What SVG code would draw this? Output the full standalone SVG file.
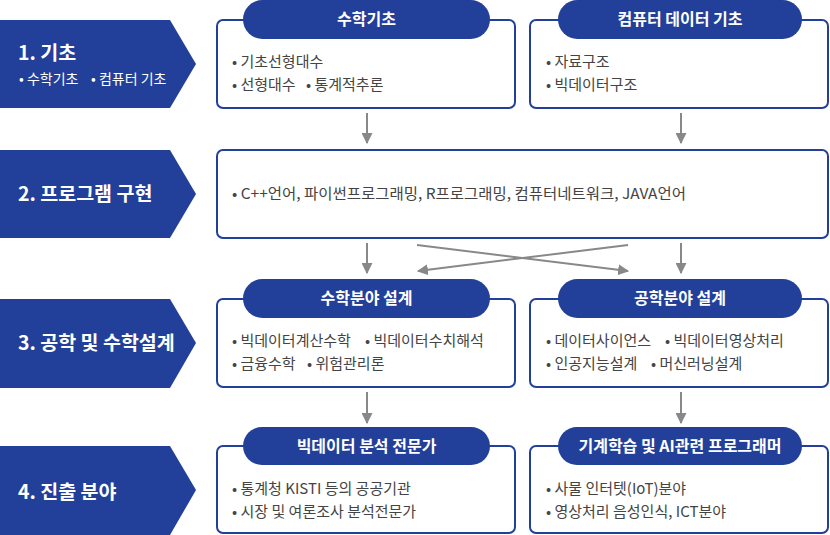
<svg xmlns="http://www.w3.org/2000/svg" width="830" height="535" viewBox="0 0 830 535">
<style>
.stage{fill:#22409a}
.stitle{font-family:"Noto Sans CJK KR","Noto Sans",sans-serif;font-size:19.5px;font-weight:bold;fill:#fff}
.ssub{font-family:"Noto Sans CJK KR","Noto Sans",sans-serif;font-size:14px;fill:#fff}
.box{fill:#fff;stroke:#22409a;stroke-width:2}
.pill{fill:#22409a}
.ptext{font-family:"Noto Sans CJK KR","Noto Sans",sans-serif;font-size:16px;font-weight:bold;fill:#fff;text-anchor:middle}
.body{font-family:"Noto Sans CJK KR","Noto Sans",sans-serif;font-size:15px;fill:#444}
.conn{stroke:#888;stroke-width:2;fill:none;marker-end:url(#ah)}
</style>
<defs>
<marker id="ah" viewBox="0 0 10 10" refX="9" refY="5" markerWidth="5.5" markerHeight="5.5" markerUnits="strokeWidth" orient="auto">
<path d="M0,0 L10,5 L0,10 z" fill="#888"/>
</marker>
</defs>

<g id="stage1"><polygon class="stage" points="0,20 170,20 196,64 170,108 0,108"/>
<text class="stitle" x="18" y="60">1. 기초</text>
<text class="ssub" y="84"><tspan x="19">• 수학기초</tspan><tspan x="91">• 컴퓨터 기초</tspan></text></g>
<g id="stage2"><polygon class="stage" points="0,150 170,150 196,194 170,238 0,238"/>
<text class="stitle" x="18" y="201">2. 프로그램 구현</text></g>
<g id="stage3"><polygon class="stage" points="0,299 170,299 196,343 170,388 0,388"/>
<text class="stitle" x="18" y="350">3. 공학 및 수학설계</text></g>
<g id="stage4"><polygon class="stage" points="0,446 170,446 196,490 170,535 0,535"/>
<text class="stitle" x="18" y="499">4. 진출 분야</text></g>

<g id="math-basics"><rect class="box" x="217" y="20" width="298" height="88" rx="6"/>
<rect class="pill" x="243" y="0" width="247" height="39" rx="19.5"/>
<text class="ptext" x="366.5" y="25">수학기초</text>
<text class="body" x="232" y="67">• 기초선형대수</text>
<text class="body" y="90"><tspan x="232">• 선형대수</tspan><tspan x="306">• 통계적추론</tspan></text></g>

<g id="cs-basics"><rect class="box" x="530" y="20" width="298" height="88" rx="6"/>
<rect class="pill" x="558" y="0" width="244" height="39" rx="19.5"/>
<text class="ptext" x="680" y="25">컴퓨터 데이터 기초</text>
<text class="body" x="546" y="67">• 자료구조</text>
<text class="body" x="546" y="90">• 빅데이터구조</text></g>

<g id="programming"><rect class="box" x="217" y="150" width="611" height="88" rx="6"/>
<text class="body" x="232" y="199" textLength="454" lengthAdjust="spacingAndGlyphs">• C++언어, 파이썬프로그래밍, R프로그래밍, 컴퓨터네트워크, JAVA언어</text></g>

<g id="math-design"><rect class="box" x="217" y="299" width="298" height="88" rx="6"/>
<rect class="pill" x="243" y="279" width="247" height="39" rx="19.5"/>
<text class="ptext" x="366.5" y="304">수학분야 설계</text>
<text class="body" y="346"><tspan x="232">• 빅데이터계산수학</tspan><tspan x="365">• 빅데이터수치해석</tspan></text>
<text class="body" y="369"><tspan x="232">• 금융수학</tspan><tspan x="307">• 위험관리론</tspan></text></g>

<g id="eng-design"><rect class="box" x="530" y="299" width="298" height="88" rx="6"/>
<rect class="pill" x="558" y="279" width="244" height="39" rx="19.5"/>
<text class="ptext" x="680" y="304">공학분야 설계</text>
<text class="body" y="346"><tspan x="546">• 데이터사이언스</tspan><tspan x="665">• 빅데이터영상처리</tspan></text>
<text class="body" y="369"><tspan x="546">• 인공지능설계</tspan><tspan x="651">• 머신러닝설계</tspan></text></g>

<g id="bigdata-expert"><rect class="box" x="217" y="446" width="298" height="87" rx="6"/>
<rect class="pill" x="243" y="427" width="247" height="38" rx="19"/>
<text class="ptext" x="366.5" y="452">빅데이터 분석 전문가</text>
<text class="body" x="232" y="494">• 통계청 KISTI 등의 공공기관</text>
<text class="body" x="232" y="517">• 시장 및 여론조사 분석전문가</text></g>

<g id="ml-programmer"><rect class="box" x="530" y="446" width="298" height="87" rx="6"/>
<rect class="pill" x="558" y="427" width="244" height="38" rx="19"/>
<text class="ptext" x="680" y="452">기계학습 및 AI관련 프로그래머</text>
<text class="body" x="546" y="494">• 사물 인터텟(IoT)분야</text>
<text class="body" x="546" y="517">• 영상처리 음성인식, ICT분야</text></g>

<g id="connectors">
<line class="conn" x1="367" y1="113" x2="367" y2="143"/>
<line class="conn" x1="681" y1="113" x2="681" y2="143"/>
<line class="conn" x1="367" y1="243" x2="367" y2="273"/>
<line class="conn" x1="681" y1="243" x2="681" y2="273"/>
<line class="conn" x1="417" y1="245" x2="628" y2="271"/>
<line class="conn" x1="628" y1="245" x2="418" y2="271"/>
<line class="conn" x1="367" y1="392" x2="367" y2="423"/>
<line class="conn" x1="681" y1="392" x2="681" y2="423"/>
</g>
</svg>
